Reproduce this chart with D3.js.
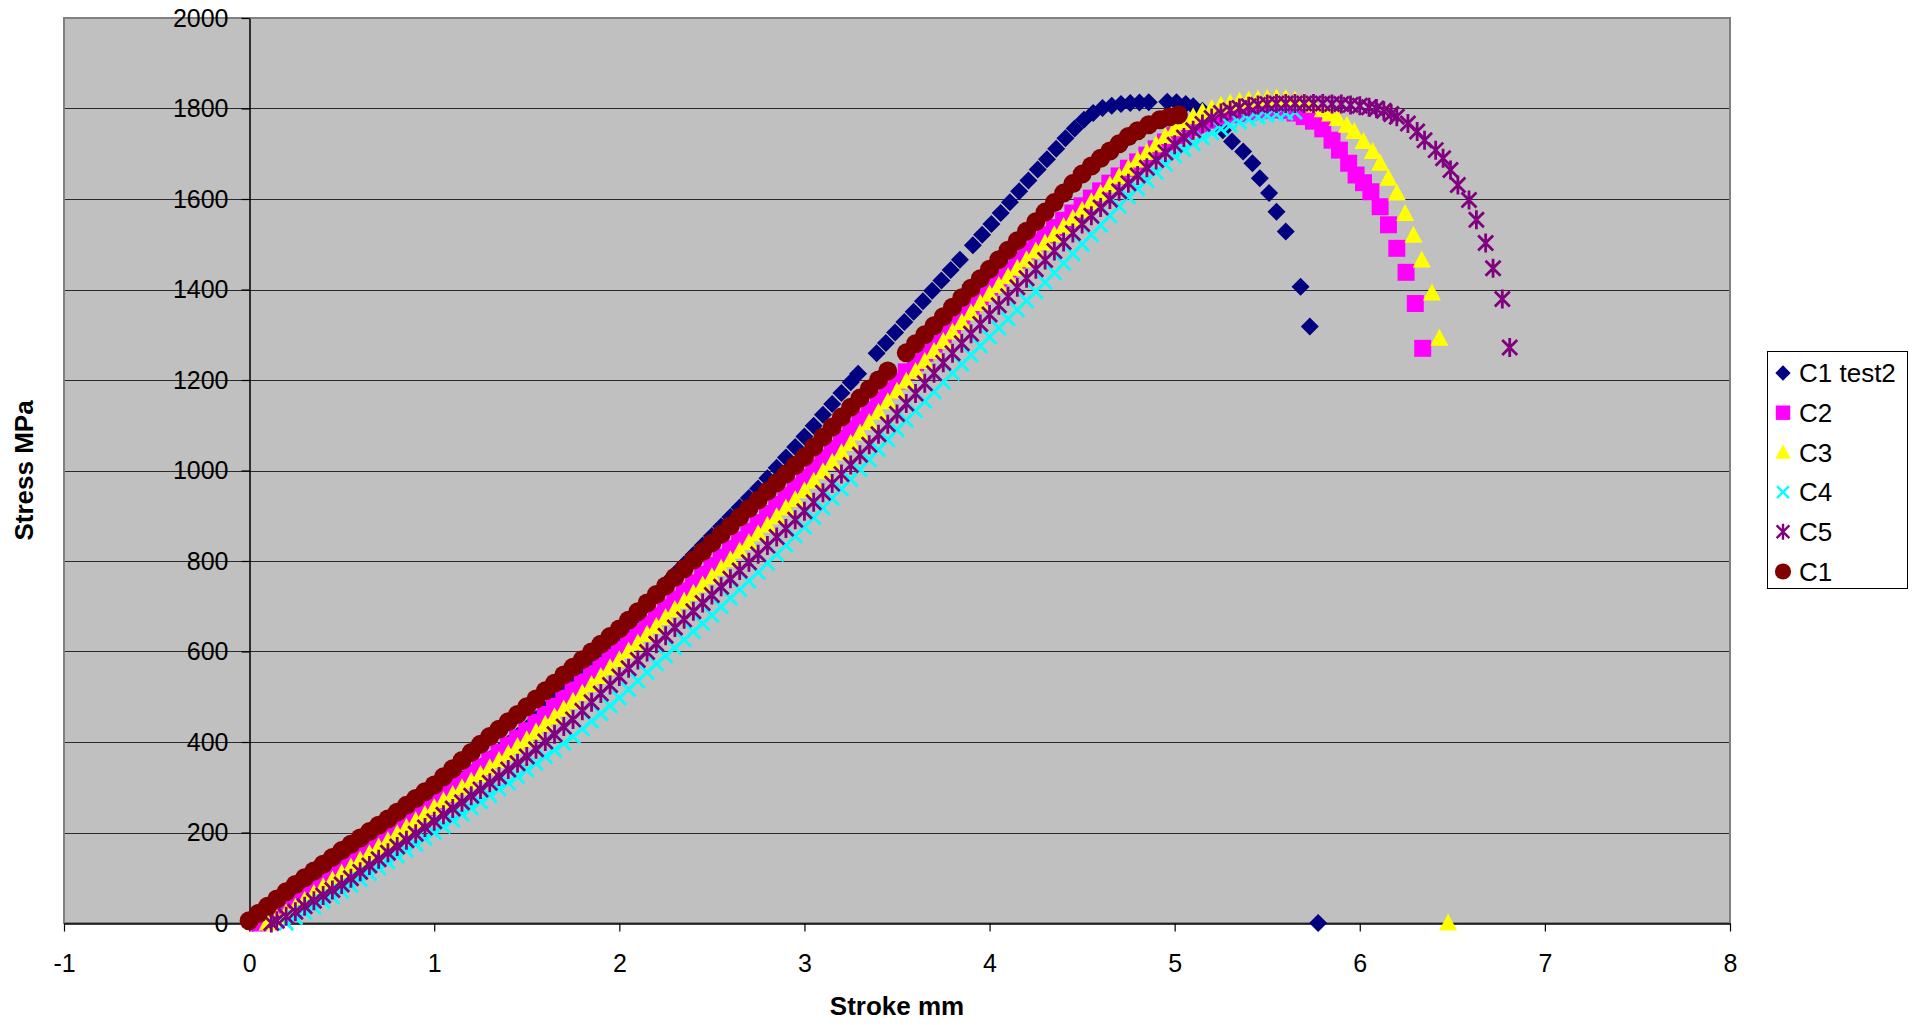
<!DOCTYPE html>
<html><head><meta charset="utf-8">
<script src="https://cdn.jsdelivr.net/npm/d3@7"></script>
<style>body{margin:0;background:#fff}svg text{font-family:"Liberation Sans",Arial,sans-serif}</style>
</head><body>
<svg id="chart" width="1917" height="1025"></svg>
<script>
const seriesNames = ["C1 test2","C2","C3","C4","C5","C1"];
const xTicks = [-1,0,1,2,3,4,5,6,7,8];
const yTicks = [0,200,400,600,800,1000,1200,1400,1600,1800,2000];
const xTitle = "Stroke mm";
const yTitle = "Stress MPa";

const c1test2 = [[0.02,0],[0.05,8],[0.10,22],[0.15,36],[0.20,56],[0.25,70],[0.30,84],[0.35,98],[0.40,112],[0.45,126],[0.50,140],[0.55,154],[0.60,168],[0.65,182],[0.70,196],[0.75,210],[0.80,223],[0.85,236],[0.90,249],[0.95,262],[1.00,275],[1.05,289],[1.10,303],[1.15,317],[1.20,331],[1.25,345],[1.30,362],[1.35,379],[1.40,396],[1.45,413],[1.50,430],[1.55,450],[1.60,470],[1.65,490],[1.70,510],[1.75,530],[1.80,551],[1.85,572],[1.90,593],[1.95,614],[2.00,635],[2.05,658],[2.10,681],[2.15,704],[2.20,727],[2.25,750],[2.30,771],[2.35,792],[2.40,813],[2.45,834],[2.50,855],[2.55,876],[2.60,897],[2.65,918],[2.70,939],[2.75,960],[2.80,983],[2.85,1006],[2.90,1029],[2.95,1052],[3.00,1075],[3.05,1099],[3.10,1123],[3.15,1147],[3.20,1171],[3.25,1195],[3.29,1214],[3.39,1259],[3.44,1282],[3.49,1305],[3.54,1328],[3.59,1351],[3.64,1374],[3.69,1397],[3.74,1420],[3.79,1443],[3.84,1466],[3.91,1498],[3.96,1521],[4.01,1545],[4.06,1569],[4.11,1593],[4.16,1617],[4.21,1641],[4.26,1665],[4.31,1688],[4.36,1711],[4.41,1734],[4.46,1756],[4.51,1775],[4.56,1790],[4.61,1801],[4.66,1806],[4.71,1810],[4.76,1812],[4.81,1813],[4.86,1814],[4.96,1815],[5.01,1814],[5.06,1810],[5.10,1805],[5.15,1795],[5.20,1778],[5.26,1752],[5.31,1727],[5.37,1705],[5.42,1679],[5.46,1646],[5.51,1613],[5.55,1572],[5.60,1528],[5.68,1406],[5.73,1318],[5.775,0]];

const c2 = [[0.05,0],[0.10,10],[0.15,20],[0.20,32],[0.25,45],[0.30,60],[0.35,75],[0.40,90],[0.45,105],[0.50,120],[0.55,136],[0.60,152],[0.65,168],[0.70,184],[0.75,200],[0.80,214],[0.85,228],[0.90,242],[0.95,256],[1.00,270],[1.05,285],[1.10,300],[1.15,315],[1.20,330],[1.25,345],[1.30,361],[1.35,377],[1.40,393],[1.45,409],[1.50,425],[1.55,443],[1.60,461],[1.65,479],[1.70,497],[1.75,515],[1.80,533],[1.85,551],[1.90,569],[1.95,587],[2.00,605],[2.05,624],[2.10,642],[2.15,661],[2.20,679],[2.25,698],[2.30,716],[2.35,734],[2.40,752],[2.45,771],[2.50,790],[2.55,809],[2.60,828],[2.65,847],[2.70,866],[2.75,885],[2.80,905],[2.85,925],[2.90,945],[2.95,965],[3.00,985],[3.05,1006],[3.10,1028],[3.15,1049],[3.20,1071],[3.25,1092],[3.30,1113],[3.35,1134],[3.40,1156],[3.45,1177],[3.50,1198],[3.55,1218],[3.60,1238],[3.65,1259],[3.70,1279],[3.75,1300],[3.80,1321],[3.85,1342],[3.90,1363],[3.95,1384],[4.00,1405],[4.05,1425],[4.10,1445],[4.15,1465],[4.20,1485],[4.25,1505],[4.30,1521],[4.35,1537],[4.40,1553],[4.45,1569],[4.50,1585],[4.55,1602],[4.60,1618],[4.65,1635],[4.70,1651],[4.75,1668],[4.80,1682],[4.85,1697],[4.90,1711],[4.95,1726],[5.00,1740],[5.05,1749],[5.10,1758],[5.15,1766],[5.20,1774],[5.25,1782],[5.30,1786],[5.35,1789],[5.40,1792],[5.45,1795],[5.50,1797],[5.55,1797],[5.60,1796],[5.65,1790],[5.70,1782],[5.75,1772],[5.80,1755],[5.85,1730],[5.89,1708],[5.94,1679],[5.98,1653],[6.02,1636],[6.06,1616],[6.11,1583],[6.155,1543],[6.20,1491],[6.25,1438],[6.30,1369],[6.34,1270]];

const c3 = [[0.10,0],[0.15,10],[0.20,22],[0.25,35],[0.30,50],[0.35,65],[0.40,80],[0.45,95],[0.50,110],[0.55,124],[0.60,139],[0.65,153],[0.70,168],[0.75,182],[0.80,197],[0.85,211],[0.90,226],[0.95,240],[1.00,255],[1.05,270],[1.10,284],[1.15,299],[1.20,313],[1.25,328],[1.30,343],[1.35,359],[1.40,374],[1.45,390],[1.50,405],[1.55,422],[1.60,439],[1.65,456],[1.70,473],[1.75,490],[1.80,508],[1.85,527],[1.90,545],[1.95,564],[2.00,582],[2.05,601],[2.10,619],[2.15,638],[2.20,656],[2.25,675],[2.30,693],[2.35,711],[2.40,729],[2.45,747],[2.50,765],[2.55,784],[2.60,803],[2.65,822],[2.70,841],[2.75,860],[2.80,879],[2.85,898],[2.90,917],[2.95,936],[3.00,955],[3.05,976],[3.10,997],[3.15,1018],[3.20,1039],[3.25,1060],[3.30,1083],[3.35,1106],[3.40,1129],[3.45,1152],[3.50,1175],[3.55,1197],[3.60,1219],[3.65,1241],[3.70,1263],[3.75,1285],[3.80,1306],[3.85,1327],[3.90,1348],[3.95,1369],[4.00,1390],[4.05,1409],[4.10,1428],[4.15,1447],[4.20,1466],[4.25,1485],[4.30,1503],[4.35,1521],[4.40,1539],[4.45,1557],[4.50,1575],[4.55,1594],[4.60,1612],[4.65,1631],[4.70,1649],[4.75,1668],[4.80,1686],[4.85,1703],[4.90,1720],[4.95,1738],[5.00,1755],[5.05,1769],[5.10,1782],[5.15,1792],[5.20,1800],[5.25,1807],[5.30,1812],[5.35,1816],[5.40,1819],[5.45,1821],[5.50,1822],[5.55,1823],[5.60,1822],[5.65,1819],[5.70,1815],[5.75,1807],[5.80,1797],[5.84,1788],[5.88,1778],[5.93,1763],[5.97,1749],[6.02,1727],[6.07,1705],[6.11,1679],[6.155,1646],[6.20,1613],[6.245,1568],[6.29,1520],[6.335,1465],[6.39,1392],[6.43,1292],[6.477,0]];

const c4 = [[0.20,0],[0.25,12],[0.30,23],[0.35,35],[0.40,47],[0.45,58],[0.50,70],[0.55,83],[0.60,96],[0.65,109],[0.70,122],[0.75,135],[0.80,148],[0.85,161],[0.90,174],[0.95,187],[1.00,200],[1.05,214],[1.10,227],[1.15,241],[1.20,254],[1.25,268],[1.30,282],[1.35,296],[1.40,310],[1.45,324],[1.50,338],[1.55,353],[1.60,368],[1.65,382],[1.70,397],[1.75,412],[1.80,429],[1.85,446],[1.90,463],[1.95,480],[2.00,497],[2.05,516],[2.10,535],[2.15,554],[2.20,573],[2.25,590],[2.30,608],[2.35,626],[2.40,644],[2.45,662],[2.50,680],[2.55,699],[2.60,718],[2.65,737],[2.70,756],[2.75,775],[2.80,795],[2.85,815],[2.90,835],[2.95,855],[3.00,875],[3.05,896],[3.10,917],[3.15,938],[3.20,959],[3.25,980],[3.30,1002],[3.35,1024],[3.40,1046],[3.45,1068],[3.50,1090],[3.55,1111],[3.60,1132],[3.65,1153],[3.70,1174],[3.75,1195],[3.80,1215],[3.85,1235],[3.90,1255],[3.95,1275],[4.00,1295],[4.05,1315],[4.10,1335],[4.15,1355],[4.20,1375],[4.25,1395],[4.30,1416],[4.35,1437],[4.40,1458],[4.45,1479],[4.50,1500],[4.55,1521],[4.60,1542],[4.65,1563],[4.70,1584],[4.75,1605],[4.80,1623],[4.85,1641],[4.90,1659],[4.95,1677],[5.00,1695],[5.05,1709],[5.10,1722],[5.15,1735],[5.20,1746],[5.25,1755],[5.30,1763],[5.35,1770],[5.40,1776],[5.45,1781],[5.50,1785],[5.55,1788],[5.60,1790],[5.65,1792]];

const c5 = [[0.12,0],[0.15,5],[0.20,15],[0.25,25],[0.30,37],[0.35,49],[0.40,61],[0.45,73],[0.50,85],[0.55,99],[0.60,113],[0.65,127],[0.70,141],[0.75,155],[0.80,169],[0.85,183],[0.90,197],[0.95,211],[1.00,225],[1.05,239],[1.10,253],[1.15,267],[1.20,281],[1.25,295],[1.30,310],[1.35,324],[1.40,339],[1.45,353],[1.50,368],[1.55,384],[1.60,401],[1.65,417],[1.70,434],[1.75,450],[1.80,469],[1.85,488],[1.90,507],[1.95,526],[2.00,545],[2.05,563],[2.10,581],[2.15,599],[2.20,617],[2.25,635],[2.30,653],[2.35,671],[2.40,689],[2.45,707],[2.50,725],[2.55,743],[2.60,761],[2.65,779],[2.70,797],[2.75,815],[2.80,834],[2.85,853],[2.90,872],[2.95,891],[3.00,910],[3.05,930],[3.10,951],[3.15,971],[3.20,992],[3.25,1012],[3.30,1035],[3.35,1057],[3.40,1080],[3.45,1102],[3.50,1125],[3.55,1148],[3.60,1170],[3.65,1193],[3.70,1215],[3.75,1238],[3.80,1259],[3.85,1281],[3.90,1302],[3.95,1324],[4.00,1345],[4.05,1365],[4.10,1385],[4.15,1405],[4.20,1425],[4.25,1445],[4.30,1465],[4.35,1485],[4.40,1505],[4.45,1525],[4.50,1545],[4.55,1563],[4.60,1581],[4.65,1599],[4.70,1617],[4.75,1635],[4.80,1652],[4.85,1669],[4.90,1686],[4.95,1703],[5.00,1720],[5.05,1736],[5.10,1752],[5.15,1766],[5.20,1779],[5.25,1790],[5.30,1796],[5.35,1801],[5.40,1805],[5.45,1808],[5.50,1810],[5.55,1811],[5.60,1811],[5.65,1811],[5.70,1811],[5.75,1811],[5.80,1811],[5.85,1810],[5.90,1810],[5.95,1808],[6.00,1806],[6.05,1803],[6.09,1800],[6.13,1795],[6.17,1788],[6.20,1782],[6.26,1767],[6.31,1749],[6.35,1730],[6.41,1708],[6.45,1690],[6.49,1664],[6.53,1631],[6.59,1598],[6.63,1554],[6.68,1503],[6.72,1447],[6.77,1379],[6.81,1272]];

const c1 = [[0.00,5],[0.05,21],[0.10,37],[0.15,53],[0.20,69],[0.25,85],[0.30,100],[0.35,115],[0.40,130],[0.45,145],[0.50,160],[0.55,174],[0.60,188],[0.65,202],[0.70,216],[0.75,230],[0.80,245],[0.85,260],[0.90,275],[0.95,290],[1.00,305],[1.05,323],[1.10,341],[1.15,359],[1.20,377],[1.25,395],[1.30,412],[1.35,428],[1.40,445],[1.45,461],[1.50,478],[1.55,495],[1.60,513],[1.65,530],[1.70,548],[1.75,565],[1.80,582],[1.85,599],[1.90,616],[1.95,633],[2.00,650],[2.05,669],[2.10,688],[2.15,707],[2.20,726],[2.25,745],[2.30,764],[2.35,783],[2.40,802],[2.45,821],[2.50,840],[2.55,859],[2.60,878],[2.65,897],[2.70,916],[2.75,935],[2.80,954],[2.85,973],[2.90,992],[2.95,1011],[3.00,1030],[3.05,1052],[3.10,1074],[3.15,1096],[3.20,1118],[3.25,1140],[3.30,1160],[3.35,1180],[3.40,1200],[3.45,1220],[3.55,1260],[3.60,1280],[3.65,1300],[3.70,1320],[3.75,1340],[3.80,1361],[3.85,1382],[3.90,1403],[3.95,1424],[4.00,1445],[4.05,1466],[4.10,1487],[4.15,1508],[4.20,1529],[4.25,1550],[4.30,1571],[4.35,1592],[4.40,1613],[4.45,1634],[4.50,1655],[4.55,1673],[4.60,1690],[4.65,1706],[4.70,1722],[4.75,1738],[4.80,1751],[4.86,1764],[4.92,1775],[4.97,1781],[5.02,1786]];

const seriesData = [c1test2, c2, c3, c4, c5, c1];
const seriesColors = ["#000080","#FF00FF","#FFFF00","#00FFFF","#800080","#800000"];
const seriesShapes = ["diamond","square","triangle","x","asterisk","circle"];

const svg = d3.select("#chart");
const W = 1917, H = 1025;
const plot = {left:64, right:1730, top:18, bottom:923};
const x = d3.scaleLinear().domain([-1,8]).range([plot.left, plot.right]);
const y = d3.scaleLinear().domain([0,2000]).range([plot.bottom, plot.top]);

svg.append("rect").attr("x",0).attr("y",0).attr("width",W).attr("height",H).attr("fill","#fff");
svg.append("rect").attr("x",plot.left).attr("y",plot.top)
  .attr("width",plot.right-plot.left).attr("height",plot.bottom-plot.top)
  .attr("fill","#C0C0C0");

// gridlines
svg.append("g").selectAll("line").data(yTicks.filter(v=>v>0 && v<2000)).join("line")
  .attr("x1",plot.left).attr("x2",plot.right)
  .attr("y1",d=>Math.round(y(d))+0.5).attr("y2",d=>Math.round(y(d))+0.5)
  .attr("stroke","#2a2a2a").attr("stroke-width",1);

// border
svg.append("rect").attr("x",plot.left).attr("y",plot.top)
  .attr("width",plot.right-plot.left).attr("height",plot.bottom-plot.top)
  .attr("fill","none").attr("stroke","#808080").attr("stroke-width",2);

// axes
const fontTick = 25;
const yAxis = d3.axisLeft(y).tickValues(yTicks).tickSize(8).tickSizeOuter(0).tickPadding(13).tickFormat(d3.format("d"));
const gy = svg.append("g").attr("transform",`translate(${Math.round(x(0))+0.5},0)`).call(yAxis);
const xAxis = d3.axisBottom(x).tickValues(xTicks).tickSize(8).tickSizeOuter(0).tickPadding(23).tickFormat(d3.format("d"));
const gx = svg.append("g").attr("transform",`translate(0,${Math.round(y(0))+0.5})`).call(xAxis);
[gx,gy].forEach(g=>{
  g.select(".domain").attr("stroke","#000").attr("stroke-width",1.5);
  g.selectAll(".tick line").attr("stroke","#000").attr("stroke-width",1.2);
  g.selectAll(".tick text").attr("fill","#000").style("font-size",fontTick+"px").style("font-family","'Liberation Sans',Arial,sans-serif");
});
gx.selectAll(".tick text").text(d=>d<0 ? "-"+Math.abs(d) : d);

// markers
const shapePath = {
  diamond: "M0,-9L9,0L0,9L-9,0Z",
  square: "M-8.5,-8.5H8.5V8.5H-8.5Z",
  triangle: "M0,-9.5L9,7.5L-9,7.5Z",
  circle: d3.symbol(d3.symbolCircle, Math.PI*9.5*9.5)(),
  x: "M-7,-7L7,7M-7,7L7,-7",
  asterisk: "M-7.5,-7.5L7.5,7.5M-7.5,7.5L7.5,-7.5M0,-9.5L0,9.5"
};
function styleMarker(sel, shape, color){
  sel.attr("d", shapePath[shape]);
  if (shape==="x" || shape==="asterisk") {
    sel.attr("fill","none").attr("stroke",color).attr("stroke-width",2.8);
  } else {
    sel.attr("fill",color).attr("stroke","none");
  }
}

const gSeries = svg.append("g");
seriesData.forEach((data,i)=>{
  gSeries.append("g").selectAll("path").data(data).join("path")
    .attr("transform", d=>`translate(${x(d[0])},${y(d[1])})`)
    .call(sel=>styleMarker(sel, seriesShapes[i], seriesColors[i]));
});

// axis titles
svg.append("text").attr("x",(plot.left+plot.right)/2).attr("y",1006).attr("dy","0.35em")
  .attr("text-anchor","middle").style("font-size","26px").style("font-weight","bold").text(xTitle);
svg.append("text").attr("transform",`translate(24,${(plot.top+plot.bottom)/2}) rotate(-90)`).attr("dy","0.35em")
  .attr("text-anchor","middle").style("font-size","26px").style("font-weight","bold").text(yTitle);

// legend
const lg = svg.append("g");
lg.append("rect").attr("x",1767.5).attr("y",351.5).attr("width",140).attr("height",237)
  .attr("fill","#fff").attr("stroke","#000").attr("stroke-width",1);
seriesNames.forEach((name,i)=>{
  const cy = 373 + i*39.7;
  lg.append("path").attr("transform",`translate(1783,${cy}) scale(0.85)`).call(sel=>styleMarker(sel, seriesShapes[i], seriesColors[i]));
  lg.append("text").attr("x",1799).attr("y",cy).attr("dy","0.35em").style("font-size","26px").text(name);
});
</script>
</body></html>
